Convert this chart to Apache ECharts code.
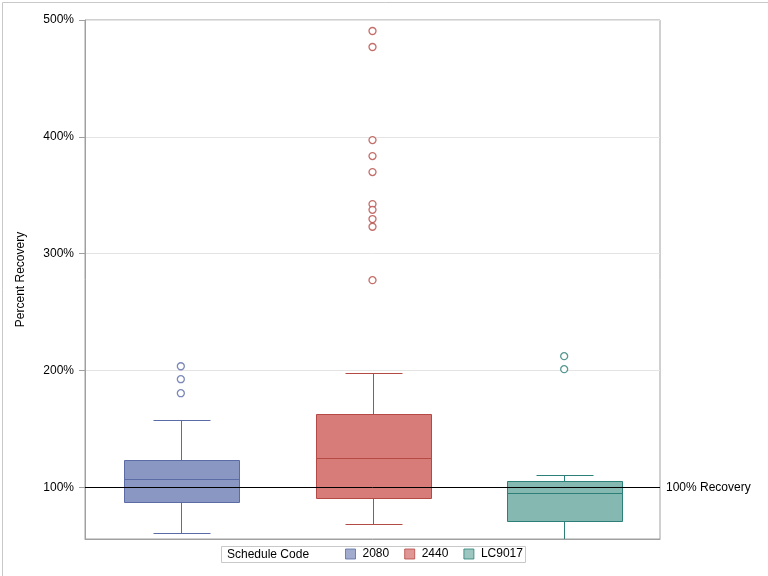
<!DOCTYPE html>
<html>
<head>
<meta charset="utf-8">
<script src="https://cdn.jsdelivr.net/npm/echarts@6/dist/echarts.min.js"></script>
<style>
html,body{margin:0;padding:0;background:#fff;}
#c{width:768px;height:576px;}
</style>
</head>
<body>
<div id="c"></div>
<script>
const categories = ['2080', '2440', 'LC9017'];
const whiskerLow = [60.6, 68.6, 48];
const q1 = [87.2, 90.6, 70.9];
const median = [106.9, 124.8, 94.9];
const q3 = [123.1, 162.5, 105.1];
const whiskerHigh = [157.4, 197.6, 110.3];
const outliers2080 = [203.6, 192.5, 180.5];
const outliers2440 = [490.6, 476.9, 397.2, 383.5, 369.8, 342.4, 337.5, 329.6, 323.0, 277.3];
const outliersLC9017 = [212.2, 201.1];
const yTicks = [100, 200, 300, 400, 500];
const refValue = 100;

const fills = ['#8A97C2', '#D87C79', '#85B8B1'];
const strokes = ['#5B6BA6', '#B54A44', '#2C8077'];
const font = '"Liberation Sans", Arial, sans-serif';

const boxData = categories.map((c, i) => [i, whiskerLow[i], q1[i], median[i], q3[i], whiskerHigh[i]]);
const outlierSets = [outliers2080, outliers2440, outliersLC9017];

const chart = echarts.init(document.getElementById('c'), null, {renderer: 'canvas'});

const series = [{
  type: 'custom',
  name: 'boxes',
  clip: true,
  z: 3,
  data: boxData,
  renderItem: function (params, api) {
    const i = api.value(0);
    const bw = api.size([1, 0])[0] * 0.6;
    const pLo = api.coord([i, api.value(1)]);
    const pQ1 = api.coord([i, api.value(2)]);
    const pMed = api.coord([i, api.value(3)]);
    const pQ3 = api.coord([i, api.value(4)]);
    const pHi = api.coord([i, api.value(5)]);
    const cx = Math.round(pQ1[0]) + 0.5;
    const x0 = Math.round(cx - bw / 2) + 0.5;
    const x1 = Math.round(cx + bw / 2) + 0.5;
    const cap = bw / 4;
    const st = {stroke: strokes[i], lineWidth: 1};
    const r = v => Math.round(v) + 0.5;
    return {
      type: 'group',
      children: [
        {type: 'line', shape: {x1: cx, y1: r(pQ3[1]), x2: cx, y2: r(pHi[1])}, style: st},
        {type: 'line', shape: {x1: cx, y1: r(pQ1[1]), x2: cx, y2: r(pLo[1])}, style: st},
        {type: 'line', shape: {x1: r(cx - cap), y1: r(pHi[1]), x2: r(cx + cap), y2: r(pHi[1])}, style: st},
        {type: 'line', shape: {x1: r(cx - cap), y1: r(pLo[1]), x2: r(cx + cap), y2: r(pLo[1])}, style: st},
        {type: 'rect', shape: {x: x0, y: r(pQ3[1]), width: x1 - x0, height: r(pQ1[1]) - r(pQ3[1])},
          style: {fill: fills[i], stroke: strokes[i], lineWidth: 1}},
        {type: 'line', shape: {x1: x0, y1: r(pMed[1]), x2: x1, y2: r(pMed[1])}, style: st, z2: 5}
      ]
    };
  }
}, {
  type: 'line',
  name: 'ref',
  data: [],
  silent: true,
  markLine: {
    silent: true,
    symbol: 'none',
    z: 4,
    lineStyle: {color: '#000', width: 1, type: 'solid'},
    label: {show: true, position: 'end', formatter: '100% Recovery', color: '#000',
      fontFamily: font, fontSize: 12, distance: 6},
    data: [{yAxis: refValue}]
  }
}];

categories.forEach((c, i) => {
  series.push({
    type: 'scatter',
    name: c,
    symbol: 'circle',
    symbolSize: 7,
    z: 5,
    itemStyle: {color: '#fff', borderColor: strokes[i], borderWidth: 1.3},
    data: outlierSets[i].map(v => [i, v])
  });
});

chart.setOption({
  animation: false,
  backgroundColor: '#fff',
  textStyle: {fontFamily: font},
  grid: {left: 85, right: 108, top: 20, bottom: 37, show: true, borderColor: '#a0a0a0', borderWidth: 1, backgroundColor: 'transparent'},
  xAxis: {
    type: 'category',
    data: categories,
    boundaryGap: true,
    axisLine: {show: true, lineStyle: {color: '#a0a0a0'}},
    axisTick: {show: false},
    axisLabel: {show: false},
    splitLine: {show: false}
  },
  yAxis: {
    type: 'value',
    min: 55.7,
    max: 500,
    name: 'Percent Recovery',
    nameLocation: 'middle',
    nameGap: 58,
    nameTextStyle: {color: '#000', fontSize: 12, fontFamily: font},
    axisLine: {show: true, lineStyle: {color: '#a0a0a0'}},
    axisTick: {show: true, length: 6, lineStyle: {color: '#a0a0a0'}, customValues: yTicks},
    axisLabel: {color: '#000', fontSize: 12, fontFamily: font, margin: 11, customValues: yTicks,
      formatter: v => v + '%'},
    splitLine: {show: true, lineStyle: {color: '#e4e4e4'}}
  },
  legend: {
    show: true,
    left: 341,
    top: 547,
    itemWidth: 10,
    itemHeight: 10,
    itemGap: 15,
    padding: [1, 4, 1, 4],
    textStyle: {color: '#000', fontSize: 12, fontFamily: font, padding: [0, 0, 0, 2]},
    data: categories.map((c, i) => ({name: c, icon: 'rect',
      itemStyle: {color: fills[i], borderColor: strokes[i], borderWidth: 1}}))
  },
  graphic: [
    {type: 'rect', left: 0, top: 0, shape: {x: 0.5, y: 0.5, width: 767, height: 575},
      style: {fill: 'none', stroke: '#c8c8c8', lineWidth: 1}, silent: true, z: -1},
    {type: 'rect', shape: {x: 221.5, y: 546.5, width: 304, height: 16},
      style: {fill: 'none', stroke: '#c8c8c8', lineWidth: 1}, silent: true},
    {type: 'text', x: 227, y: 555, style: {text: 'Schedule Code', fill: '#000', font: '12px ' + font, textVerticalAlign: 'middle'}, silent: true}
  ],
  series: series
});
</script>
</body>
</html>
